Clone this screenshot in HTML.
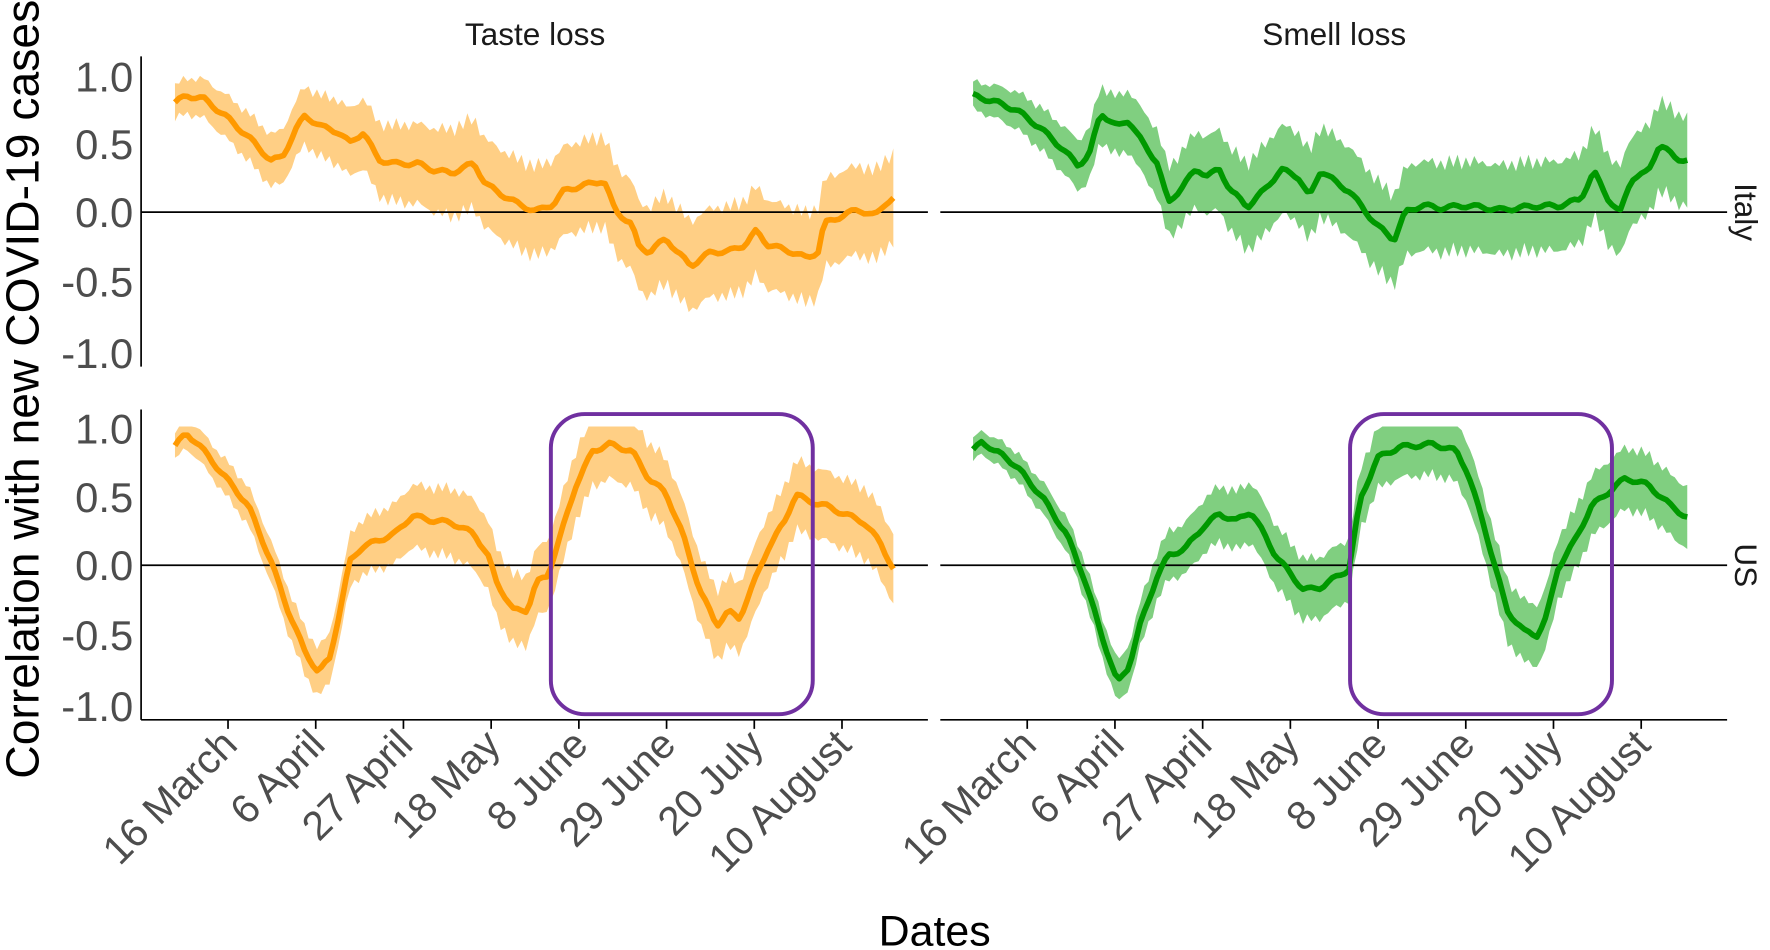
<!DOCTYPE html>
<html><head><meta charset="utf-8"><style>html,body{margin:0;padding:0;background:#fff}svg{display:block}</style></head>
<body>
<svg id="s" width="1770" height="950" viewBox="0 0 1568 842" preserveAspectRatio="none" xmlns="http://www.w3.org/2000/svg" font-family="Liberation Sans, sans-serif">
<rect width="1568" height="842" fill="#fff"/>
<g id="bands"></g>
<g stroke="#000" stroke-width="1.5">
<line x1="125" y1="50" x2="125" y2="325"/>
<line x1="125" y1="363" x2="125" y2="638"/>
<line x1="125" y1="638" x2="822" y2="638"/>
<line x1="833" y1="638" x2="1530" y2="638"/>
<line x1="125" y1="188" x2="822" y2="188"/>
<line x1="833" y1="188" x2="1530" y2="188"/>
<line x1="125" y1="501" x2="822" y2="501"/>
<line x1="833" y1="501" x2="1530" y2="501"/>
</g>
<g id="lines"></g>
<g id="ticks" stroke="#000" stroke-width="1.5"></g>
<g font-size="37" fill="#4d4d4d" text-anchor="end">
<text x="118" y="81">1.0</text><text x="118" y="141">0.5</text><text x="118" y="201">0.0</text><text x="118" y="263">-0.5</text><text x="118" y="326">-1.0</text>
<text x="118" y="393">1.0</text><text x="118" y="454">0.5</text><text x="118" y="514">0.0</text><text x="118" y="576">-0.5</text><text x="118" y="639">-1.0</text>
</g>
<g id="xl" font-size="36" fill="#4d4d4d" text-anchor="end"></g>
<g fill="none" stroke="#7030A0" stroke-width="3.5">
<rect x="488" y="367" width="232" height="266" rx="30"/>
<rect x="1196" y="367" width="232" height="266" rx="30"/>
</g>
<g font-size="28" fill="#1a1a1a" text-anchor="middle">
<text x="474" y="40">Taste loss</text><text x="1182" y="40">Smell loss</text>
<text transform="translate(1537,188) rotate(90)">Italy</text>
<text transform="translate(1537,501) rotate(90)">US</text>
</g>
<text font-size="41" text-anchor="middle" transform="translate(34,345) rotate(-90)">Correlation with new COVID-19 cases</text>
<text font-size="38" text-anchor="middle" x="828" y="838">Dates</text>
</svg>
<script>
var NS="http://www.w3.org/2000/svg";
function el(t,a,p){var e=document.createElementNS(NS,t);for(var k in a)e.setAttribute(k,a[k]);document.getElementById(p).appendChild(e);return e;}
var S=[
{y0:188,c:"#FF9900",b:"#FFCF85",w:[0.12,0.32],p:[[155,0.8],[165,0.85],[180,0.83],[200,0.7],[220,0.55],[240,0.38],[250,0.4],[262,0.6],[270,0.7],[285,0.62],[300,0.58],[310,0.5],[322,0.58],[335,0.38],[350,0.35],[370,0.35],[385,0.3],[400,0.28],[420,0.35],[430,0.2],[445,0.12],[460,0.05],[475,0.0],[490,0.05],[500,0.15],[515,0.18],[535,0.22],[545,0.0],[560,-0.1],[565,-0.25],[575,-0.3],[590,-0.2],[600,-0.3],[612,-0.4],[630,-0.3],[645,-0.3],[660,-0.25],[670,-0.15],[680,-0.25],[700,-0.3],[715,-0.35],[725,-0.3],[730,-0.1],[745,-0.05],[760,0.0],[775,-0.05],[785,0.05],[792,0.08]]},
{y0:188,c:"#009900",b:"#80CF80",w:[0.1,0.32],p:[[862,0.82],[880,0.78],[900,0.72],[920,0.6],[940,0.45],[955,0.32],[965,0.4],[975,0.7],[990,0.6],[1000,0.65],[1015,0.45],[1025,0.35],[1035,0.05],[1045,0.15],[1060,0.3],[1070,0.25],[1080,0.3],[1090,0.15],[1105,0.03],[1120,0.15],[1135,0.3],[1150,0.25],[1160,0.1],[1170,0.3],[1185,0.2],[1195,0.15],[1210,0.0],[1220,-0.1],[1235,-0.2],[1245,0.0],[1260,0.05],[1275,0.03],[1300,0.05],[1330,0.02],[1360,0.05],[1380,0.05],[1400,0.1],[1412,0.3],[1425,0.1],[1435,0.0],[1445,0.25],[1460,0.3],[1470,0.5],[1485,0.4],[1497,0.38]]},
{y0:501,c:"#FF9900",b:"#FFCF85",w:[0.1,0.25],p:[[155,0.83],[165,0.92],[175,0.85],[185,0.75],[200,0.6],[220,0.4],[240,0.0],[255,-0.35],[270,-0.65],[282,-0.8],[292,-0.7],[300,-0.4],[310,0.0],[320,0.1],[335,0.15],[350,0.2],[365,0.33],[380,0.3],[400,0.28],[420,0.2],[432,0.05],[440,-0.15],[455,-0.35],[467,-0.35],[475,-0.15],[485,-0.1],[495,0.15],[510,0.55],[525,0.8],[540,0.85],[560,0.8],[575,0.6],[590,0.5],[605,0.2],[620,-0.2],[635,-0.45],[645,-0.35],[655,-0.4],[665,-0.2],[680,0.1],[695,0.3],[705,0.5],[715,0.45],[730,0.42],[750,0.35],[765,0.3],[780,0.15],[792,-0.05]]},
{y0:501,c:"#009900",b:"#80CF80",w:[0.08,0.22],p:[[862,0.85],[870,0.93],[880,0.85],[890,0.82],[905,0.7],[925,0.5],[945,0.25],[960,-0.05],[975,-0.45],[990,-0.82],[1000,-0.7],[1010,-0.4],[1025,-0.05],[1035,0.1],[1050,0.15],[1065,0.3],[1080,0.4],[1095,0.35],[1108,0.42],[1120,0.25],[1130,0.1],[1140,0.0],[1155,-0.15],[1170,-0.13],[1185,-0.05],[1195,0.0],[1205,0.5],[1220,0.8],[1240,0.88],[1270,0.9],[1290,0.85],[1300,0.7],[1315,0.3],[1325,0.0],[1335,-0.3],[1350,-0.45],[1362,-0.48],[1370,-0.35],[1380,0.0],[1395,0.2],[1410,0.45],[1425,0.55],[1440,0.65],[1460,0.6],[1480,0.45],[1497,0.35]]}
];
S.forEach(function(s,si){
 var p=s.p,x0=p[0][0],x1=p[p.length-1][0],pts=[];
 for(var x=x0;x<=x1;x+=3.7){
  var i=0;while(i<p.length-2&&p[i+1][0]<x)i++;
  var t=(x-p[i][0])/(p[i+1][0]-p[i][0]);t=Math.max(0,Math.min(1,t));
  var v=p[i][1]+(p[i+1][1]-p[i][1])*t+0.03*Math.sin(x*1.7+si)+0.015*Math.sin(x*3.1);
  var f=(x-x0)/(x1-x0),hw=s.w[0]+(s.w[1]-s.w[0])*Math.min(1,f*2.5);
  hw*=1+0.15*Math.sin(x*0.9+si*2);
  pts.push([x,v,hw]);
 }
 var k=123,top=[],bot=[],ln=[];
 pts.forEach(function(q){top.push(q[0].toFixed(1)+","+(s.y0-Math.min(1,q[1]+q[2])*k).toFixed(1));bot.unshift(q[0].toFixed(1)+","+(s.y0-Math.max(-1,q[1]-q[2])*k).toFixed(1));ln.push(q[0].toFixed(1)+","+(s.y0-q[1]*k).toFixed(1));});
 el("polygon",{points:top.concat(bot).join(" "),fill:s.b},"bands");
 el("polyline",{points:ln.join(" "),fill:"none",stroke:s.c,"stroke-width":5,"stroke-linejoin":"round"},"lines");
});
var L=["16 March","6 April","27 April","18 May","8 June","29 June","20 July","10 August"];
[0,708].forEach(function(o){L.forEach(function(l,i){var x=202+i*77.7+o;
 el("line",{x1:x,y1:638,x2:x,y2:646},"ticks");
 var t=el("text",{transform:"translate("+(x+10)+",662) rotate(-45)"},"xl");t.textContent=l;});});
</script>
</body></html>
